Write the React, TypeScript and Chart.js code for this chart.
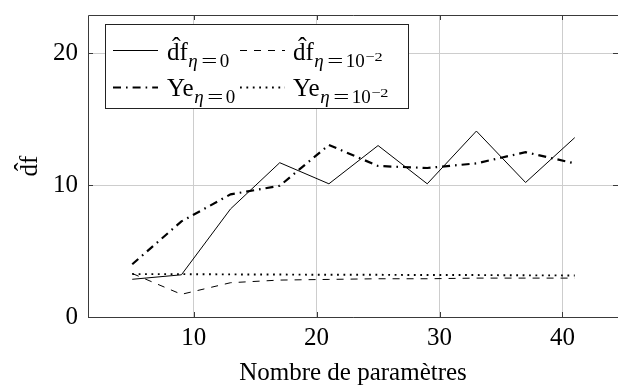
import { useEffect, useRef } from 'react';
import { Chart, registerables } from 'chart.js';

Chart.register(...registerables);

const xValues = [5, 9, 13, 17, 21, 25, 29, 33, 37, 41];
const dfEta0 = [2.86, 3.2, 8.2, 11.7, 10.1, 13.0, 10.1, 14.1, 10.2, 13.6];
const dfEta1e2 = [3.3, 1.72, 2.6, 2.8, 2.85, 2.9, 2.9, 2.95, 2.95, 2.95];
const yeEta0 = [4.0, 7.25, 9.3, 9.95, 13.05, 11.45, 11.3, 11.65, 12.5, 11.65];
const yeEta1e2 = [3.25, 3.25, 3.23, 3.22, 3.2, 3.2, 3.18, 3.18, 3.16, 3.15];

const xTicks = [10, 20, 30, 40];
const yTicks = [0, 10, 20];
const xTitle = 'Nombre de paramètres';
const yTitle = 'df';

const legendEntries = [
  { main: 'df', hat: true, num: '0', exp: '' },
  { main: 'df', hat: true, num: '10', exp: '−2' },
  { main: 'Ye', hat: false, num: '0', exp: '' },
  { main: 'Ye', hat: false, num: '10', exp: '−2' },
];

const SERIF = '"Liberation Serif", "DejaVu Serif", serif';
const AXIS_COLOR = '#3a3a3a';
const GRID_COLOR = '#cdcdcd';

const dashes: number[][] = [[], [7, 7], [8, 5, 1.6, 5], [1.8, 4.6]];
const widths = [1, 1, 2.2, 1.9];

function drawHatText(ctx: CanvasRenderingContext2D, main: string, x: number, base: number, hat: boolean) {
  ctx.font = `25px ${SERIF}`;
  ctx.textAlign = 'left';
  ctx.textBaseline = 'alphabetic';
  ctx.fillText(main, x, base);
  const w = ctx.measureText(main).width;
  if (hat) {
    ctx.font = `26px ${SERIF}`;
    const hw = ctx.measureText('ˆ').width;
    ctx.fillText('ˆ', x + w / 2 - hw / 2 - 1, base - 5);
    ctx.font = `25px ${SERIF}`;
  }
  return w;
}

function drawEntry(ctx: CanvasRenderingContext2D, x: number, base: number, e: typeof legendEntries[number]) {
  const w = drawHatText(ctx, e.main, x, base, e.hat);
  const sx = x + w;
  const sb = base + 7;
  ctx.font = `italic 19px ${SERIF}`;
  ctx.fillText('η', sx + 0.5, sb);
  ctx.save();
  ctx.translate(sx + 13.5, sb);
  ctx.scale(1.5, 1);
  ctx.font = `19px ${SERIF}`;
  ctx.fillText('=', 0, 0);
  ctx.restore();
  ctx.font = `19px ${SERIF}`;
  ctx.fillText(e.num, sx + 32, sb);
  if (e.exp) {
    const nw = ctx.measureText(e.num).width;
    ctx.save();
    ctx.translate(sx + 32 + nw + 0.5, sb - 6);
    ctx.scale(1.25, 1);
    ctx.font = `13px ${SERIF}`;
    ctx.fillText(e.exp, 0, 0);
    ctx.restore();
  }
}

const decorPlugin = {
  id: 'decor',
  afterDatasetsDraw(chart: any) {
    const ctx: CanvasRenderingContext2D = chart.ctx;
    const { left, right, top, bottom } = chart.chartArea;
    const xs = chart.scales.x;
    const ys = chart.scales.y;
    ctx.save();
    ctx.strokeStyle = AXIS_COLOR;
    ctx.lineWidth = 1;
    ctx.setLineDash([]);
    const L = Math.round(left) + 0.5;
    const T = Math.round(top) + 0.5;
    const B = Math.round(bottom) + 0.5;
    ctx.beginPath();
    ctx.moveTo(right + 2, T);
    ctx.lineTo(L, T);
    ctx.lineTo(L, B);
    ctx.lineTo(right + 2, B);
    ctx.stroke();
    const tl = 5;
    ctx.beginPath();
    xTicks.forEach((v) => {
      const px = Math.round(xs.getPixelForValue(v)) + 0.5;
      ctx.moveTo(px, bottom);
      ctx.lineTo(px, bottom - tl);
      ctx.moveTo(px, top);
      ctx.lineTo(px, top + tl);
    });
    yTicks.forEach((v) => {
      const py = Math.round(ys.getPixelForValue(v)) + 0.5;
      ctx.moveTo(left, py);
      ctx.lineTo(left + tl, py);
      ctx.moveTo(right + 2, py);
      ctx.lineTo(right - 5, py);
    });
    ctx.stroke();

    const bx = 105.5, by = 24.5, bw = 303, bh = 84;
    ctx.fillStyle = '#ffffff';
    ctx.fillRect(bx, by, bw, bh);
    ctx.strokeStyle = '#222';
    ctx.strokeRect(bx, by, bw, bh);
    const cols = [
      { sx: 113, tx: 167 },
      { sx: 240, tx: 293 },
    ];
    const rows = [59.5, 96];
    legendEntries.forEach((e, i) => {
      const c = cols[i % 2];
      const r = rows[Math.floor(i / 2)];
      const ly = Math.round(r - 9.5) + 0.5;
      ctx.strokeStyle = '#000';
      ctx.lineWidth = widths[i];
      ctx.setLineDash(dashes[i]);
      ctx.beginPath();
      ctx.moveTo(c.sx, ly);
      ctx.lineTo(c.sx + 45, ly);
      ctx.stroke();
      ctx.setLineDash([]);
      ctx.fillStyle = '#000';
      drawEntry(ctx, c.tx, r, e);
    });

    ctx.save();
    ctx.translate(37, (top + bottom) / 2);
    ctx.rotate(-Math.PI / 2);
    ctx.fillStyle = '#000';
    ctx.font = `25px ${SERIF}`;
    const tw = ctx.measureText(yTitle).width;
    drawHatText(ctx, yTitle, -tw / 2, 0, true);
    ctx.restore();

    ctx.restore();
  },
};

export default function App() {
  const ref = useRef<HTMLCanvasElement | null>(null);
  useEffect(() => {
    document.body.style.margin = '0';
    if (!ref.current) return;
    const mk = (label: string, data: number[], i: number) => ({
      label,
      data: xValues.map((x, k) => ({ x, y: data[k] })),
      borderColor: '#000',
      backgroundColor: '#000',
      borderWidth: widths[i],
      borderDash: dashes[i],
      pointRadius: 0,
      tension: 0,
      fill: false,
    });
    const zeroPad = (s: any) => {
      s.paddingTop = 0;
      s.paddingBottom = 0;
      s.paddingLeft = 0;
      s.paddingRight = 0;
    };
    const chart = new Chart(ref.current, {
      type: 'line',
      data: {
        datasets: [
          mk('df η=0', dfEta0, 0),
          mk('df η=10^-2', dfEta1e2, 1),
          mk('Ye η=0', yeEta0, 2),
          mk('Ye η=10^-2', yeEta1e2, 3),
        ],
      },
      options: {
        responsive: false,
        animation: false,
        devicePixelRatio: 1,
        layout: { padding: { left: 0, top: 15, right: 0, bottom: 0 } },
        plugins: { legend: { display: false }, tooltip: { enabled: false } },
        scales: {
          x: {
            type: 'linear',
            min: 1.4,
            max: 44.52,
            afterBuildTicks: (s: any) => {
              s.ticks = xTicks.map((v) => ({ value: v }));
            },
            afterFit: (s: any) => {
              s.height = 68;
              zeroPad(s);
            },
            ticks: {
              font: { family: SERIF, size: 25 },
              color: '#000',
              padding: 6,
              maxRotation: 0,
              autoSkip: false,
            },
            grid: { color: GRID_COLOR, drawTicks: false, lineWidth: 1 },
            border: { display: false },
            title: {
              display: true,
              text: xTitle,
              color: '#000',
              font: { family: SERIF, size: 25 },
              padding: { top: 0, bottom: -3 },
            },
          },
          y: {
            type: 'linear',
            min: 0,
            max: 22.9,
            afterBuildTicks: (s: any) => {
              s.ticks = yTicks.map((v) => ({ value: v }));
            },
            afterFit: (s: any) => {
              s.width = 88;
              zeroPad(s);
            },
            ticks: {
              font: { family: SERIF, size: 25 },
              color: '#000',
              padding: 10,
            },
            grid: { color: GRID_COLOR, drawTicks: false, lineWidth: 1 },
            border: { display: false },
          },
        },
      },
      plugins: [decorPlugin],
    });
    return () => chart.destroy();
  }, []);
  return (
    <div style={{ position: 'fixed', left: 0, top: 0, width: 618, height: 385, overflow: 'hidden', background: '#fff' }}>
      <canvas ref={ref} width={618} height={385} style={{ width: 618, height: 385, display: 'block' }} />
    </div>
  );
}
